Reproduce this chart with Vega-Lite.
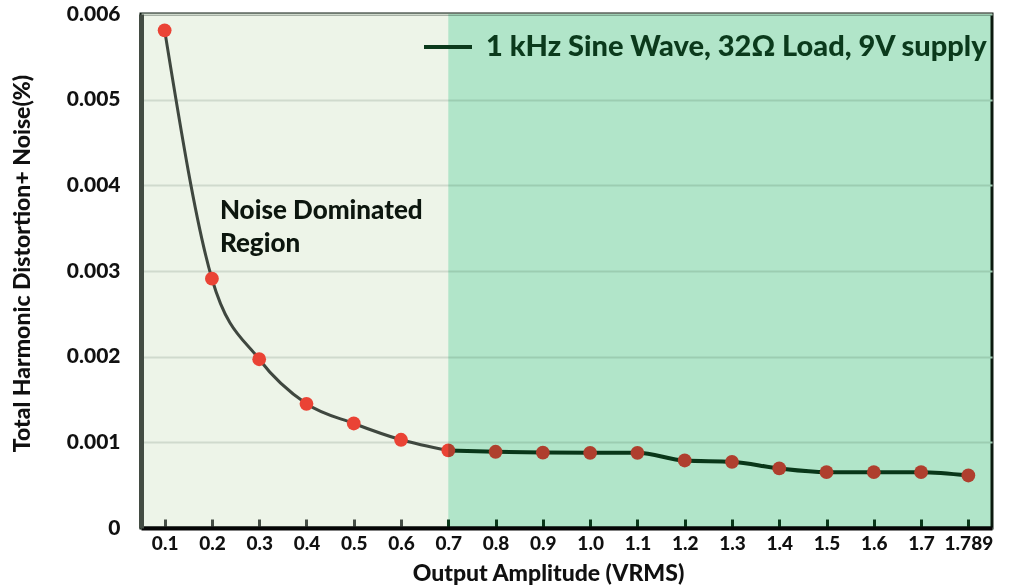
{
  "$schema": "https://vega.github.io/schema/vega-lite/v6.json",
  "width": 851,
  "height": 514,
  "autosize": {"type": "none"},
  "padding": {"left": 141, "top": 14, "right": 21, "bottom": 60},
  "background": "white",
  "config": {
    "font": "Lato",
    "view": {"fill": "#edf4e8", "stroke": "#0d1a10", "strokeWidth": 3},
    "axis": {"labelFont": "Lato", "titleFont": "Lato", "labelFontWeight": 900, "titleFontWeight": 900, "labelColor": "#111111", "titleColor": "#111111"}
  },
  "data": {
    "values": [
      {"amp": "0.1", "v": 0.1, "thd": 0.00581},
      {"amp": "0.2", "v": 0.2, "thd": 0.00291},
      {"amp": "0.3", "v": 0.3, "thd": 0.00197},
      {"amp": "0.4", "v": 0.4, "thd": 0.00145},
      {"amp": "0.5", "v": 0.5, "thd": 0.00122},
      {"amp": "0.6", "v": 0.6, "thd": 0.00103},
      {"amp": "0.7", "v": 0.7, "thd": 0.000905},
      {"amp": "0.8", "v": 0.8, "thd": 0.00089},
      {"amp": "0.9", "v": 0.9, "thd": 0.000881},
      {"amp": "1.0", "v": 1.0, "thd": 0.000878},
      {"amp": "1.1", "v": 1.1, "thd": 0.000878},
      {"amp": "1.2", "v": 1.2, "thd": 0.000788},
      {"amp": "1.3", "v": 1.3, "thd": 0.000773},
      {"amp": "1.4", "v": 1.4, "thd": 0.000695},
      {"amp": "1.5", "v": 1.5, "thd": 0.000652},
      {"amp": "1.6", "v": 1.6, "thd": 0.000652},
      {"amp": "1.7", "v": 1.7, "thd": 0.000652},
      {"amp": "1.789", "v": 1.789, "thd": 0.000613}
    ]
  },
  "layer": [
    {
      "transform": [{"filter": "datum.v <= 0.7"}],
      "mark": {"type": "line", "color": "#3f473f", "strokeWidth": 3, "interpolate": "monotone"},
      "encoding": {
        "x": {
          "field": "amp",
          "type": "ordinal",
          "scale": {"type": "point", "padding": 0.5, "domain": ["0.1","0.2","0.3","0.4","0.5","0.6","0.7","0.8","0.9","1.0","1.1","1.2","1.3","1.4","1.5","1.6","1.7","1.789"]},
          "axis": {
            "title": "Output Amplitude (VRMS)",
            "titleFontSize": 23,
            "titleX": 407,
            "titleY": 45,
            "titleBaseline": "middle",
            "labelFontSize": 19,
            "labelAngle": 0,
            "labelPadding": 15,
            "labelOverlap": false,
            "tickSize": -9,
            "tickWidth": 3,
            "tickColor": {"condition": {"test": "datum.value < '0.7'", "value": "#454d45"}, "value": "#0b3a1c"},
            "domainColor": "#050505",
            "domainWidth": 4,
            "grid": false
          }
        },
        "y": {
          "field": "thd",
          "type": "quantitative",
          "scale": {"domain": [0, 0.006], "nice": false, "zero": true},
          "axis": {
            "title": "Total Harmonic Distortion+ Noise(%)",
            "titleFontSize": 23,
            "titleX": -119,
            "titleY": 249,
            "titleBaseline": "middle",
            "values": [0, 0.001, 0.002, 0.003, 0.004, 0.005, 0.006],
            "labelExpr": "datum.value == 0 ? '0' : format(datum.value, '.3f')",
            "labelFontSize": 21,
            "labelPadding": 21,
            "ticks": false,
            "domainColor": "#434c43",
            "domainWidth": 5,
            "grid": true,
            "gridColor": "#d0dacd",
            "gridWidth": 2
          }
        }
      }
    },
    {
      "transform": [{"filter": "datum.v >= 0.7"}],
      "mark": {"type": "line", "strokeWidth": 4, "interpolate": "monotone"},
      "encoding": {
        "x": {"field": "amp", "type": "ordinal"},
        "y": {"field": "thd", "type": "quantitative"},
        "color": {
          "datum": "1 kHz Sine Wave, 32Ω Load, 9V supply",
          "scale": {"range": ["#0b3a1c"]},
          "legend": {
            "title": null,
            "orient": "none",
            "legendX": 281,
            "legendY": 7,
            "symbolType": "stroke",
            "symbolSize": 2304,
            "symbolStrokeWidth": 4,
            "labelFont": "Lato",
            "labelFontSize": 29,
            "labelFontWeight": 900,
            "labelColor": "#0b3a1c",
            "labelLimit": 0,
            "labelOffset": 12,
            "padding": 0
          }
        }
      }
    },
    {
      "mark": {"type": "point", "filled": true, "opacity": 1, "size": 190, "color": "#ea4335"},
      "encoding": {
        "x": {"field": "amp", "type": "ordinal"},
        "y": {"field": "thd", "type": "quantitative"}
      }
    },
    {
      "data": {"values": [{"note": "Noise  Dominated", "line": 1}, {"note": "Region", "line": 2}]},
      "mark": {"type": "text", "align": "left", "baseline": "middle", "fontSize": 26, "fontWeight": 900, "font": "Lato", "color": "#0c160e", "dx": 8, "dy": {"expr": "(datum.line - 1) * 33"}},
      "encoding": {
        "x": {"datum": "0.2", "type": "ordinal"},
        "y": {"datum": 0.0037, "type": "quantitative"},
        "text": {"field": "note", "type": "nominal"}
      }
    },
    {
      "data": {"values": [{"region": "signal"}]},
      "mark": {"type": "rect", "color": "#bff0dd", "blend": "multiply", "opacity": 1},
      "encoding": {
        "x": {"datum": "0.7", "type": "ordinal"},
        "x2": {"value": "width"},
        "y": {"value": 0},
        "y2": {"value": "height"}
      }
    }
  ]
}
